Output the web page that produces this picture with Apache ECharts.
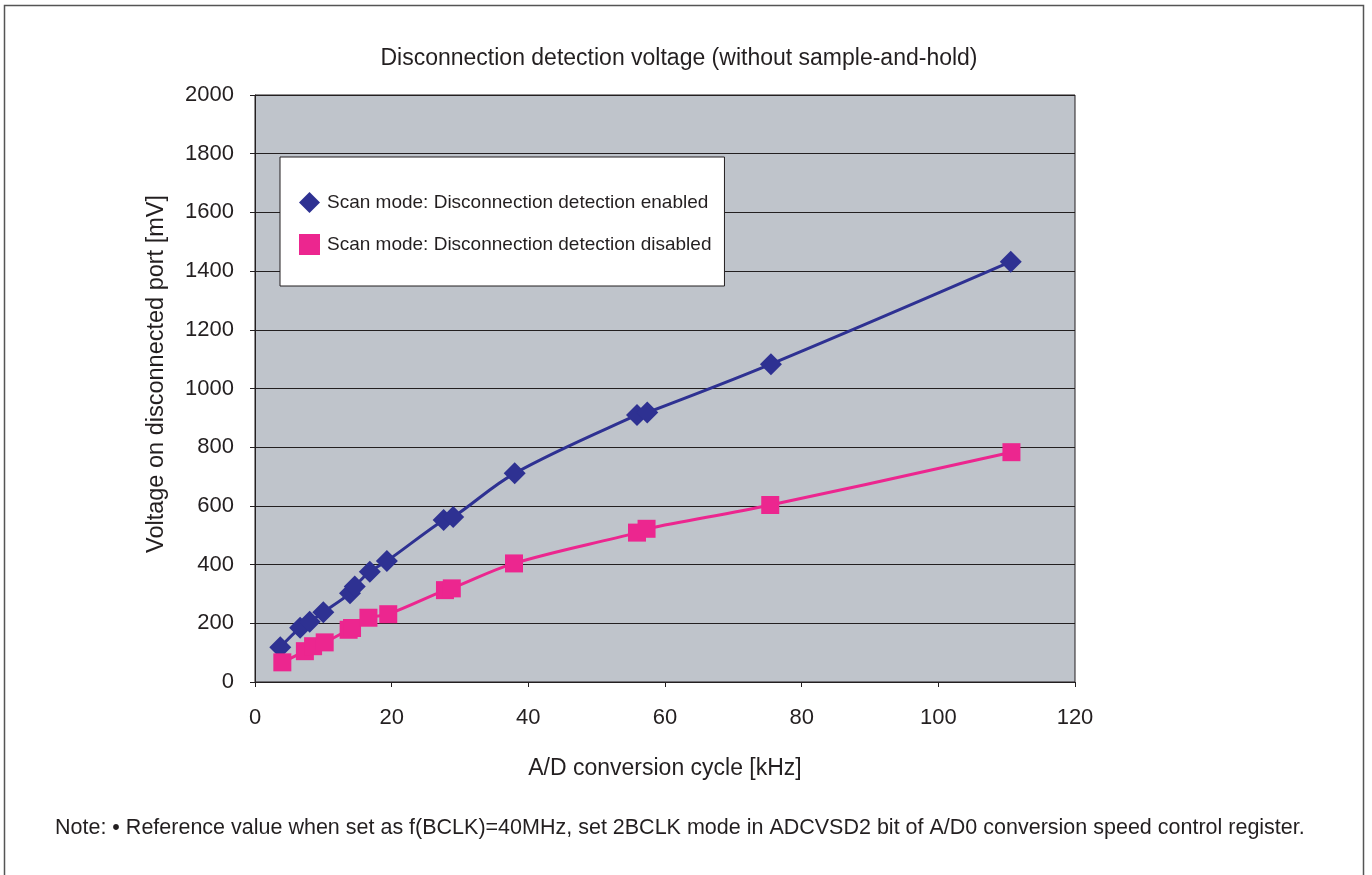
<!DOCTYPE html>
<html>
<head>
<meta charset="utf-8">
<script src="https://cdn.jsdelivr.net/npm/echarts@6/dist/echarts.min.js"></script>
<style>
html,body{margin:0;padding:0;background:#fff;}
#c{width:1372px;height:875px;}
</style>
</head>
<body>
<div id="c"></div>
<script>
var enabledX = [3.7, 6.6, 8.0, 10.0, 13.9, 14.6, 16.8, 19.3, 27.6, 29.0, 38.0, 55.9, 57.4, 75.5, 110.6];
var enabledY = [118, 185, 205, 238, 302, 325, 376, 412, 552, 562, 711, 910, 918, 1083, 1432];
var disabledX = [4.0, 7.3, 8.5, 10.2, 13.7, 14.2, 16.6, 19.5, 27.8, 28.8, 37.9, 55.9, 57.3, 75.4, 110.7];
var disabledY = [67, 105, 122, 135, 178, 184, 219, 231, 313, 319, 404, 509, 522, 603, 783];
var seriesNames = ['Scan mode: Disconnection detection enabled', 'Scan mode: Disconnection detection disabled'];
var titleText = 'Disconnection detection voltage (without sample-and-hold)';
var xName = 'A/D conversion cycle [kHz]';
var yName = 'Voltage on disconnected port [mV]';
var noteText = 'Note: \u2022 Reference value when set as f(BCLK)=40MHz, set 2BCLK mode in ADCVSD2 bit of A/D0 conversion speed control register.';

function pairs(xs, ys){ return xs.map(function(x,i){ return [x, ys[i]]; }); }

var FONT = '"Liberation Sans", Arial, sans-serif';
var TXT = '#231f20';
var chart = echarts.init(document.getElementById('c'), null, {renderer:'canvas'});
chart.setOption({
  animation: false,
  backgroundColor: '#ffffff',
  textStyle: {fontFamily: FONT, color: TXT},
  title: {
    text: titleText, left: 674, top: 42, textAlign: 'center',
    textStyle: {fontFamily: FONT, fontSize: 23, fontWeight: 'normal', color: TXT}
  },
  legend: {
    orient: 'vertical', left: 280, top: 157,
    padding: [35, 13, 31, 19],
    itemGap: 21,
    itemWidth: 21, itemHeight: 21,
    backgroundColor: '#ffffff', borderColor: '#231f20', borderWidth: 1,
    textStyle: {fontFamily: FONT, fontSize: 19, color: TXT, padding: [0,0,0,2]},
    data: [
      {name: seriesNames[0], icon: 'diamond'},
      {name: seriesNames[1], icon: 'rect'}
    ]
  },
  grid: {
    left: 255, right: 297, top: 95, bottom: 193,
    show: true, backgroundColor: '#bfc4cb', borderColor: '#231f20', borderWidth: 1
  },
  xAxis: {
    type: 'value', min: 0, max: 120, interval: 20,
    name: xName, nameLocation: 'middle', nameGap: 75,
    nameTextStyle: {fontFamily: FONT, fontSize: 23, color: TXT},
    axisLine: {show: true, onZero: false, lineStyle: {color: '#231f20', width: 1}},
    axisTick: {show: true, length: 5, inside: false, lineStyle: {color: '#231f20'}},
    axisLabel: {fontFamily: FONT, fontSize: 22, color: TXT, margin: 25},
    splitLine: {show: false}
  },
  yAxis: {
    type: 'value', min: 0, max: 2000, interval: 200,
    axisLine: {show: true, lineStyle: {color: '#231f20', width: 1}},
    axisTick: {show: true, length: 5, inside: false, lineStyle: {color: '#231f20'}},
    axisLabel: {fontFamily: FONT, fontSize: 22, color: TXT, margin: 21,
      formatter: function(v){ return String(v); }},
    splitLine: {show: true, lineStyle: {color: '#231f20', width: 1}}
  },
  series: [
    {
      name: seriesNames[0], type: 'line', smooth: 0.35,
      data: pairs(enabledX, enabledY),
      symbol: 'diamond', symbolSize: 22,
      itemStyle: {color: '#2e3192'},
      lineStyle: {color: '#2e3192', width: 3}
    },
    {
      name: seriesNames[1], type: 'line', smooth: 0.35,
      data: pairs(disabledX, disabledY),
      symbol: 'rect', symbolSize: 18,
      itemStyle: {color: '#ec268f'},
      lineStyle: {color: '#ec268f', width: 3}
    }
  ],
  graphic: [
    {type: 'rect', silent: true, z: -10,
     shape: {x: 4.5, y: 5.5, width: 1359, height: 900},
     style: {fill: 'none', stroke: '#555555', lineWidth: 1.5}},
    {type: 'text', x: 157, y: 374, rotation: Math.PI / 2,
     style: {text: yName, fontFamily: FONT, fontSize: 23.5, fill: TXT,
             textAlign: 'center', textVerticalAlign: 'middle'}},
    {type: 'text', left: 55, top: 817,
     style: {text: noteText, fontFamily: FONT, fontSize: 21.5, fill: TXT}}
  ]
});
</script>
</body>
</html>
